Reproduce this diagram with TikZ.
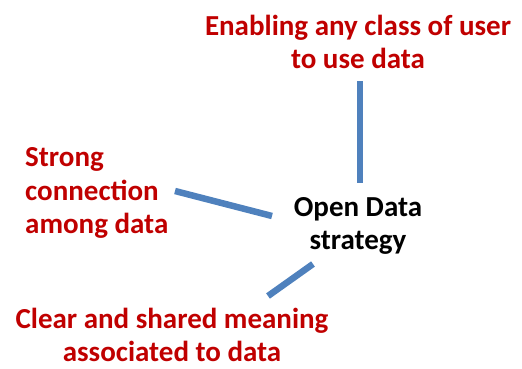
\documentclass[tikz,border=0pt]{standalone}
\usepackage{fontspec}
\setmainfont{Carlito}
\definecolor{goalred}{HTML}{C00000}
\definecolor{linkblue}{HTML}{4F81BD}
\begin{document}
\begin{tikzpicture}[x=1pt,y=-1pt,
  goal/.style={text=goalred,font=\fontsize{29}{33.5}\selectfont\bfseries,inner sep=0pt},
  link/.style={draw=linkblue,line width=6.5pt}]
\useasboundingbox (0,0) rectangle (522,369);
\node[goal,align=center] (user) at (358,42) {Enabling any class of user\\to use data};
\node[goal,align=left,anchor=west] (conn) at (25,193) {Strong\\connection\\among data};
\node[goal,align=center] (mean) at (172,335) {Clear and shared meaning\\associated to data};
\node[font=\fontsize{29}{33.5}\selectfont\bfseries,align=center,inner sep=0pt] (odata) at (358,226) {Open Data\\strategy};
\coordinate (u1) at (360,81);
\coordinate (u2) at (360,183);
\coordinate (c1) at (175,191);
\coordinate (c2) at (272,216);
\coordinate (m1) at (313,264);
\coordinate (m2) at (268,296);
\draw[link] (u1) -- (u2);
\draw[link] (c1) -- (c2);
\draw[link] (m1) -- (m2);
\end{tikzpicture}
\end{document}
